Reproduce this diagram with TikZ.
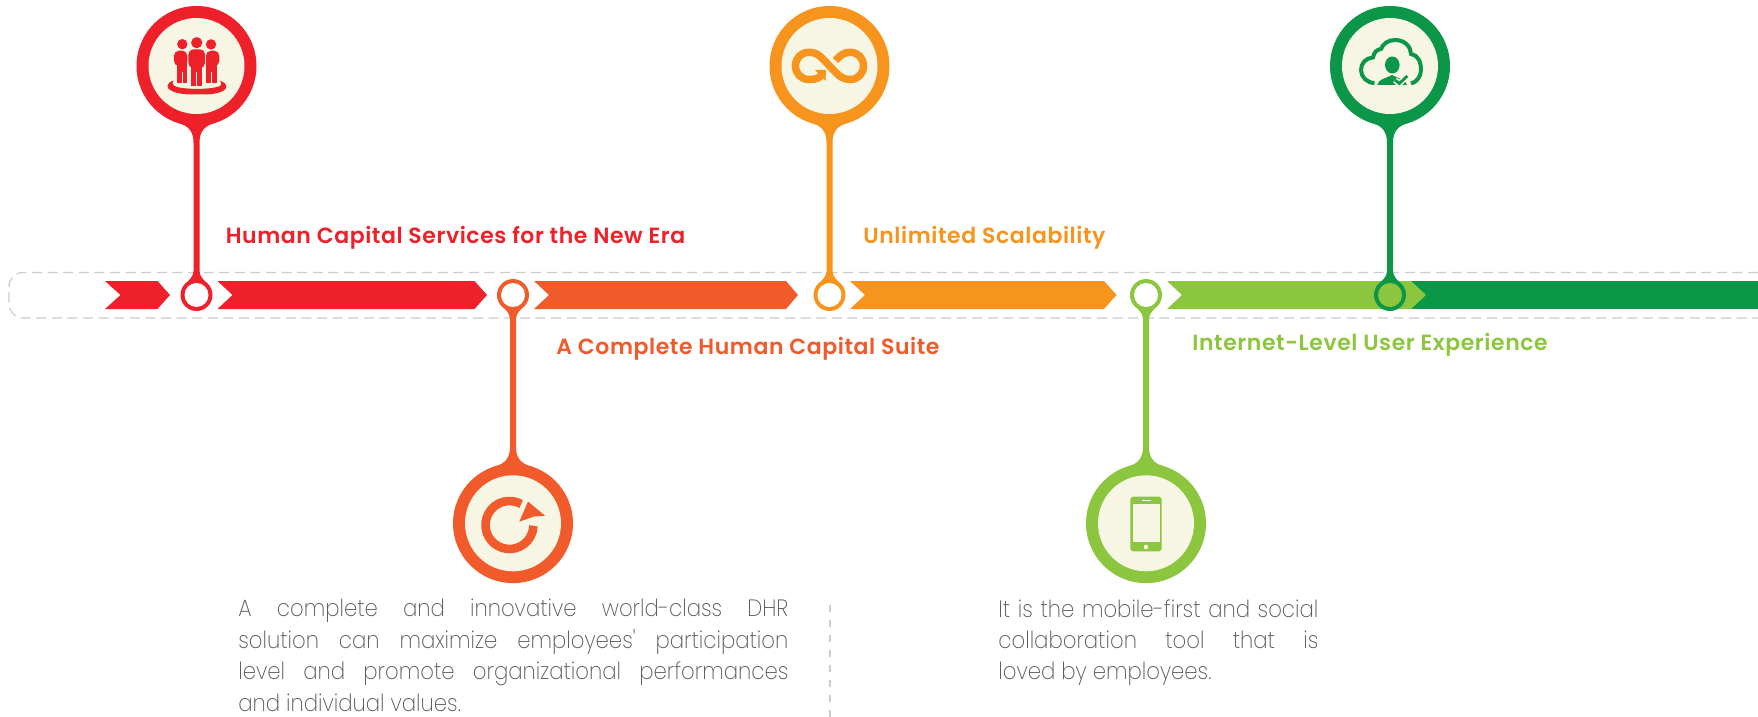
\documentclass[tikz,border=0pt]{standalone}
\usepackage{fontspec}
\setmainfont{Poppins}[UprightFont=* ExtraLight,BoldFont=* Medium]
\newfontfamily\titlefont{Poppins SemiBold}[LetterSpace=2.6]
\newfontfamily\bodyfont{Poppins ExtraLight}[FakeStretch=0.9]
\definecolor{cred}{HTML}{EE2029}
\definecolor{corg}{HTML}{F15A2B}
\definecolor{cyel}{HTML}{F7941E}
\definecolor{clim}{HTML}{8CC63F}
\definecolor{cgrn}{HTML}{0C9647}
\definecolor{ccream}{HTML}{F7F6E4}
\definecolor{cdash}{HTML}{CCCCCC}
\definecolor{cbody}{HTML}{58595B}
\tikzset{
 px/.style={x=0.5pt,y=-0.5pt},
 title/.style={anchor=base west,inner sep=0,font=\titlefont\fontsize{11pt}{14pt}\selectfont},
 bodytext/.style={anchor=north west,inner sep=0,align=left,text=cbody,font=\bodyfont\fontsize{11.8pt}{15.7pt}\selectfont},
 guide/.style={cdash,line width=0.6pt,dash pattern=on 5pt off 2.8pt},
 eye/.style={circle,minimum size=12pt,inner sep=0},
 face/.style={circle,fill=ccream,minimum size=48pt,inner sep=0},
}
\newcommand{\pin}[3]{% color, cx, dir
 \begin{scope}[shift={(#2,295)},yscale=#3]
  \fill[#1] (0,-229) circle (60);
  \fill[#1] (0,0) circle (16);
  \fill[#1] (-19,-172.5) .. controls (-8,-169) and (-3,-164) .. (-3,-152) -- (-3,-24)
     .. controls (-3,-18) and (-8,-14.5) .. (-13,-9) -- (13,-9)
     .. controls (8,-14.5) and (3,-18) .. (3,-24) -- (3,-152)
     .. controls (3,-164) and (8,-169) .. (19,-172.5) -- cycle;
 \end{scope}
}
\begin{document}
\begin{tikzpicture}[px]
\useasboundingbox (0,0) rectangle (1758,717);
\fill[white] (0,0) rectangle (1758,717);
% band
\draw[guide,rounded corners=7pt] (1758,272.5) -- (9,272.5) -- (9,318) -- (1758,318);
\draw[guide,dash pattern=on 3.5pt off 4pt] (830,605) -- (830,717);
% arrows
\fill[cred] (105,281) -- (157.5,281) -- (170,295) -- (157.5,309) -- (105,309) -- (120.5,295) -- cycle;
\fill[cred] (217.5,281) -- (474.5,281) -- (487,295) -- (474.5,309) -- (217.5,309) -- (232.5,295) -- cycle;
\fill[corg] (534,281) -- (786,281) -- (798,295) -- (786,309) -- (534,309) -- (549,295) -- cycle;
\fill[cyel] (850,281) -- (1104,281) -- (1116.5,295) -- (1104,309) -- (850,309) -- (865,295) -- cycle;
\fill[cgrn] (1411,281) -- (1758,281) -- (1758,309) -- (1411,309) -- cycle;
\fill[clim] (1167,281) -- (1411,281) -- (1426,295) -- (1411,309) -- (1167,309) -- (1182,295) -- cycle;
% pins
\pin{cred}{196.5}{1}
\pin{corg}{513}{-0.997}
\pin{cyel}{829.5}{1}
\pin{clim}{1146}{-0.997}
\pin{cgrn}{1390}{1}
% ring centres
\node[eye,fill=white] (ra) at (196.5,295) {};
\node[eye,fill=white] (rb) at (513,295) {};
\node[eye,fill=white] (rc) at (829.5,295) {};
\node[eye,fill=white] (rd) at (1146,295) {};
\node[eye,fill=clim] (re) at (1390,295) {};
% heads
\node[face] (ha) at (196.5,66) {};
\node[face] (hb) at (513,523.3) {};
\node[face] (hc) at (829.5,66) {};
\node[face] (hd) at (1146,523.3) {};
\node[face] (he) at (1390,66) {};
% icon people
\begin{scope}
 \fill[cred] (182.3,44.2) circle (5.2);
 \fill[cred] (211,44.4) circle (5.2);
 \fill[cred] (196.7,42.7) circle (5.6);
 \fill[cred,rounded corners=2.5pt] (174,50.7) rectangle (187.3,66);
 \fill[cred] (176.7,60) rectangle (187.3,83.5);
 \fill[cred,rounded corners=2.5pt] (206,50.7) rectangle (219.3,66);
 \fill[cred] (206,60) rectangle (216.7,83.5);
 \fill[cred,rounded corners=2.5pt] (188.4,49.3) rectangle (205,68);
 \fill[cred] (190.7,62) rectangle (202.3,85.7);
 \fill[ccream] (196.1,72) rectangle (197,86);
 \fill[ccream] (182,72) rectangle (182.8,84);
 \fill[ccream] (210.8,72) rectangle (211.6,84);
 \fill[cred] (173.5,80.5) .. controls (166,83) and (166.5,88) .. (170,90) .. controls (178,94.5) and (188,94.5) .. (197,94.5) .. controls (206,94.5) and (216,94.5) .. (223,91) .. controls (228,88) and (228,84) .. (220,80.5) .. controls (222,84) and (222,86) .. (217,87) .. controls (208,89.5) and (186,89.5) .. (177,87) .. controls (172,85.5) and (172,83) .. (173.5,80.5) -- cycle;
\end{scope}
% icon infinity
\draw[cyel,line width=3.75pt] (821,76) .. controls (817,79.5) and (812,79.5) .. (809,79.5) .. controls (801,79.5) and (795.5,73.5) .. (795.5,66) .. controls (795.5,58) and (801,52.3) .. (809,52.3) .. controls (818,52.3) and (822,58) .. (829.5,66) .. controls (837,73.5) and (841,79.5) .. (850,79.5) .. controls (858,79.5) and (863.5,73.5) .. (863.5,66) .. controls (863.5,58) and (858,52.3) .. (850,52.3) .. controls (844,52.3) and (840,55.5) .. (835.5,60.5);
\fill[cyel] (815,70) -- (826,70) -- (825.5,81) -- cycle;
% icon cloud
\draw[cgrn,line width=2pt] (1374.5,83) .. controls (1367,83) and (1361,77) .. (1361,70) .. controls (1361,63) and (1366,58) .. (1373,57.5) .. controls (1374,52) and (1377,49.5) .. (1381,49) .. controls (1383,44) and (1388,40) .. (1395,40) .. controls (1405,40) and (1411,47) .. (1411,54) .. controls (1418,55) and (1421,62) .. (1421,70) .. controls (1421,77) and (1416,82.5) .. (1411,83.5);
\fill[cgrn] (1392.3,65) ellipse (7.3 and 8.5);
\fill[cgrn] (1377.3,85) .. controls (1378,79) and (1386,78.5) .. (1392,75) .. controls (1398,78.5) and (1406,79) .. (1407,85) -- cycle;
\draw[ccream,line width=3pt] (1395,80) -- (1399.3,83.5) -- (1407.3,76);
\draw[cgrn,line width=1.4pt] (1395,80) -- (1399.3,83.5) -- (1407.3,76);
% icon refresh
\draw[corg,line width=4.3pt] (509.5,525) ++(-61:24) arc (-61:-358:24);
\fill[corg] (528,501.5) -- (545,515.7) -- (534,516.5) -- (519.3,521.7) -- cycle;
% icon phone
\fill[clim,rounded corners=1.5pt] (1130.3,496.7) rectangle (1161.7,551.3);
\fill[ccream] (1132.7,504.3) rectangle (1159.7,542.3);
\fill[ccream] (1141.7,499.7) rectangle (1150.7,501);
\fill[ccream] (1146,547) circle (2.3);
% titles
\node[title,text=cred] (t1) at (225.5,243) {Human Capital Services for the New Era};
\node[title,text=corg] (t2) at (556,354) {A Complete Human Capital Suite};
\node[title,text=cyel] (t3) at (863,243) {Unlimited Scalability};
\node[title,text=clim] (t4) at (1192,350) {Internet-Level User Experience};
% body
\node[bodytext] (b1) at (238,599) {\makebox[275pt][s]{A complete and innovative world-class DHR}\\\makebox[275pt][s]{solution can maximize employees' participation}\\\makebox[275pt][s]{level and promote organizational performances}\\and individual values.};
\node[bodytext] (b2) at (998,599) {\makebox[160pt][s]{It is the mobile-first and social}\\\makebox[160pt][s]{collaboration tool that is}\\loved by employees.};
\end{tikzpicture}
\end{document}
